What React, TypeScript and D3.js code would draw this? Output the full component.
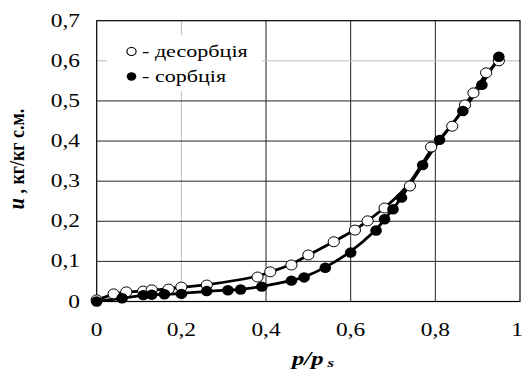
import React from "react";
import * as d3 from "d3";

const desX = [0.0, 0.04, 0.07, 0.11, 0.13, 0.17, 0.2, 0.26, 0.38, 0.41, 0.46, 0.5, 0.56, 0.61, 0.64, 0.68, 0.74, 0.79, 0.84, 0.87, 0.89, 0.92, 0.95];
const desY = [0.004, 0.019, 0.024, 0.026, 0.029, 0.031, 0.036, 0.041, 0.061, 0.074, 0.091, 0.116, 0.149, 0.178, 0.201, 0.233, 0.288, 0.385, 0.437, 0.49, 0.52, 0.57, 0.6];
const sorX = [0.0, 0.06, 0.11, 0.13, 0.16, 0.2, 0.26, 0.31, 0.34, 0.39, 0.46, 0.49, 0.54, 0.6, 0.66, 0.68, 0.7, 0.72, 0.77, 0.81, 0.865, 0.91, 0.95];
const sorY = [0.0, 0.008, 0.016, 0.017, 0.018, 0.019, 0.026, 0.028, 0.03, 0.037, 0.052, 0.06, 0.084, 0.122, 0.177, 0.205, 0.23, 0.259, 0.34, 0.403, 0.475, 0.54, 0.61];
const xTicks = [0, 0.2, 0.4, 0.6, 0.8, 1];
const yTicks = [0, 0.1, 0.2, 0.3, 0.4, 0.5, 0.6, 0.7];
const legendLabels = ["- десорбція", "- сорбція"];

const fmt = (v: number) => String(v).replace(".", ",");
const SX = 1.3;
const FONT = '"Liberation Serif", "Times New Roman", Times, serif';

export default function App() {
  const x = d3.scaleLinear().domain([0, 1]).range([96.7, 520]);
  const y = d3.scaleLinear().domain([0, 0.7]).range([301.5, 20.7]);
  const line = d3
    .line<[number, number]>()
    .x((d) => x(d[0]))
    .y((d) => y(d[1]))
    .curve(d3.curveBasis);
  const des: [number, number][] = desX.map((v, i) => [v, desY[i]]);
  const sor: [number, number][] = sorX.map((v, i) => [v, sorY[i]]);
  const light = (v: number, axis: string) => (axis === "x" ? v === 0.2 : v === 0.6);
  const ts = { fontFamily: FONT };

  return (
    <svg width={524} height={371} style={{ position: "absolute", left: 0, top: 0, background: "#fff", fontFamily: FONT }}>
      <rect x={0} y={0} width={524} height={371} fill="#fff" />
      {xTicks.slice(1, -1).map((t) => (
        <line key={"gx" + t} x1={x(t)} x2={x(t)} y1={y(0)} y2={y(0.7)} stroke={light(t, "x") ? "#bdbdbd" : "#222"} strokeWidth={1} />
      ))}
      {yTicks.slice(1, -1).map((t) => (
        <line key={"gy" + t} x1={x(0)} x2={x(1)} y1={y(t)} y2={y(t)} stroke={light(t, "y") ? "#bdbdbd" : "#222"} strokeWidth={1} />
      ))}
      <rect x={x(0)} y={y(0.7)} width={x(1) - x(0)} height={y(0) - y(0.7)} fill="none" stroke="#000" strokeWidth={1.2} />
      <rect x={107} y={35} width={155} height={56} fill="#fff" />
      <ellipse cx={131.5} cy={51.5} rx={4.6} ry={4} fill="#fff" stroke="#000" strokeWidth={1.2} />
      <ellipse cx={131.5} cy={76.5} rx={4.8} ry={4.2} fill="#000" />
      {legendLabels.map((l, i) => (
        <text key={l} style={ts} transform={`translate(142,${57 + i * 25}) scale(${SX},1)`} fontSize={17}>
          {l}
        </text>
      ))}
      <path d={line(des) || ""} fill="none" stroke="#000" strokeWidth={2.8} />
      <path d={line(sor) || ""} fill="none" stroke="#000" strokeWidth={2.8} />
      {des.map((d, i) => (
        <ellipse key={"d" + i} cx={x(d[0])} cy={y(d[1])} rx={5.6} ry={5} fill="#fff" stroke="#000" strokeWidth={1} />
      ))}
      {sor.map((d, i) => (
        <ellipse key={"s" + i} cx={x(d[0])} cy={y(d[1])} rx={5.8} ry={5.2} fill="#000" />
      ))}
      {xTicks.map((t) => (
        <text
          key={"tx" + t}
          style={ts}
          transform={`translate(${t === 1 ? 523 : x(t)},336) scale(${SX},1)`}
          textAnchor={t === 1 ? "end" : "middle"}
          fontSize={18}
        >
          {fmt(t)}
        </text>
      ))}
      {yTicks.map((t) => (
        <text key={"ty" + t} style={ts} transform={`translate(80,${y(t) + 6}) scale(${SX},1)`} textAnchor="end" fontSize={18}>
          {fmt(t)}
        </text>
      ))}
      <text style={ts} transform={`translate(313,365) scale(${SX},1)`} textAnchor="middle" fontSize={19} fontWeight="bold" fontStyle="italic">
        p/p
        <tspan fontSize={13} dx={3} dy={2}>s</tspan>
      </text>
      <text style={ts} transform={`translate(24,159) scale(1.2,1) rotate(-90)`} textAnchor="middle" fontSize={18} fontWeight="bold">
        <tspan fontStyle="italic" fontSize={20}>u</tspan>
        {" , кг/кг с.м."}
      </text>
    </svg>
  );
}
